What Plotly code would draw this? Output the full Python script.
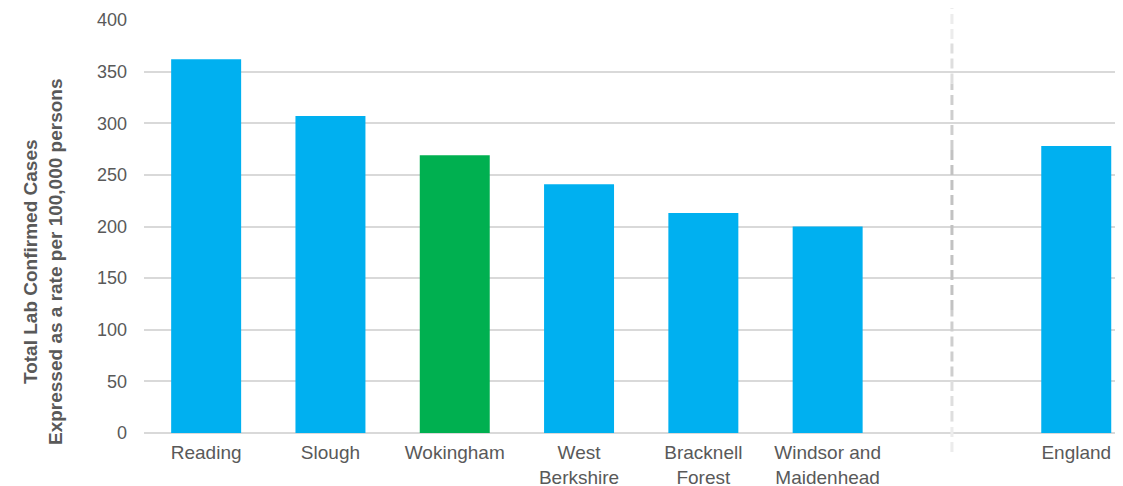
import plotly.graph_objects as go

categories = ["Reading", "Slough", "Wokingham", "West<br>Berkshire", "Bracknell<br>Forest",
              "Windsor and<br>Maidenhead", "England"]
values = [362, 307, 269, 241, 213, 200, 278]
colors = ["#00B0F0", "#00B0F0", "#00B050", "#00B0F0", "#00B0F0", "#00B0F0", "#00B0F0"]
y_ticks = [0, 50, 100, 150, 200, 250, 300, 350, 400]
y_title = "<b>Total Lab Confirmed Cases<br>Expressed as a rate per 100,000 persons</b>"

# local areas in slots 0..5, gap slot 6 (divider), England in slot 7
x_pos = list(range(len(categories) - 1)) + [len(categories)]
divider_x = len(categories) - 1

FAM = "Liberation Sans, Arial, sans-serif"
GREY = "#595959"

fig = go.Figure(go.Bar(x=x_pos, y=values, marker=dict(color=colors, line=dict(width=0)),
                       width=0.563))

W, H = 1123, 486
ML, MT, MB = 136, 12, 61
plot_w = W - ML
plot_h = H - MT - MB

fig.update_layout(
    width=W, height=H,
    margin=dict(l=ML, r=0, t=MT, b=MB),
    paper_bgcolor="white", plot_bgcolor="white",
    font=dict(family=FAM, size=18, color=GREY), showlegend=False,
)
fig.update_xaxes(range=[-0.5, -0.5 + plot_w / 124.3], tickvals=x_pos, ticktext=categories,
                 showgrid=False, zeroline=False, showline=False, ticks="",
                 tickfont=dict(family=FAM, size=19, color=GREY), ticklabelstandoff=6)
fig.update_yaxes(range=[0, 400], tickvals=y_ticks, showgrid=True, gridcolor="#d9d9d9",
                 gridwidth=1.5, zeroline=True, zerolinecolor="#d9d9d9", zerolinewidth=1.5,
                 showline=False, ticks="", tickfont=dict(family=FAM, size=18, color=GREY),
                 ticklabelstandoff=16)

# y-axis title as rotated annotation
fig.add_annotation(text=y_title, textangle=-90, xref="paper", yref="paper",
                   x=(35 - ML) / plot_w, y=(MT + plot_h - 254) / plot_h,
                   xanchor="center", yanchor="middle", showarrow=False,
                   font=dict(family=FAM, size=19, color=GREY))

# gradient dashed divider: light at ends, darker in middle
segs = [(0.0, 0.07, "#ececec"), (0.07, 0.17, "#dedede"), (0.17, 0.32, "#cecece"),
        (0.32, 0.68, "#c2c2c2"), (0.68, 0.83, "#cecece"), (0.83, 0.93, "#dedede"),
        (0.93, 1.0, "#ececec")]
y_bot = (MT + plot_h - 444) / plot_h
y_top = (MT + plot_h - 0) / plot_h
for a, b, c in segs:
    fig.add_shape(type="line", xref="x", yref="paper", x0=divider_x, x1=divider_x,
                  y0=y_bot + a * (y_top - y_bot), y1=y_bot + b * (y_top - y_bot),
                  line=dict(color=c, width=3, dash="10px,5px"))

fig.write_html("out.html")
